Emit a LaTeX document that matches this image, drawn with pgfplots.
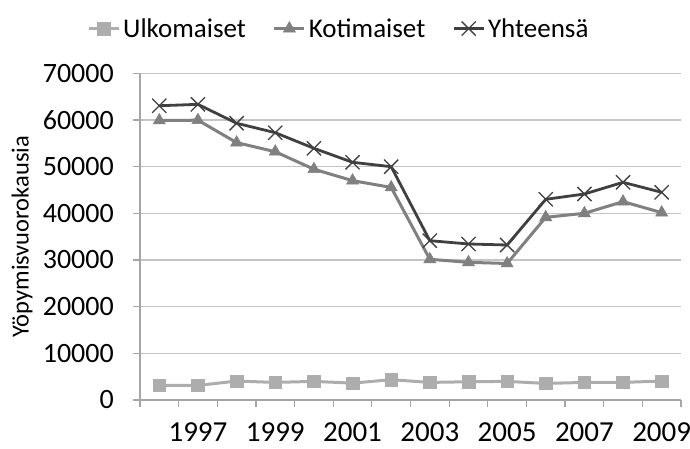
\documentclass[border=0pt]{standalone}
\usepackage{fontspec}
\setmainfont{Carlito}
\usepackage{pgfplots}
\pgfplotsset{compat=1.18}

\definecolor{ulko}{HTML}{ADADAD}
\definecolor{koti}{HTML}{808080}
\definecolor{yht}{HTML}{404040}
\definecolor{gridc}{HTML}{C4C4C4}
\definecolor{axisc}{HTML}{A6A6A6}

\begin{document}
\begin{tikzpicture}
\useasboundingbox (-140pt,-48pt) rectangle (550pt,400pt);
\begin{axis}[
  scale only axis,
  width=541pt, height=326.7pt,
  xmin=-0.5, xmax=13.5,
  ymin=0, ymax=70000,
  axis lines=left,
  axis line style={draw=axisc, line width=1.2pt, -},
  ytick={0,10000,...,70000},
  scaled y ticks=false,
  xtick={-0.5,0.5,...,13.5},
  xticklabels={},
  extra x ticks={1,3,5,7,9,11,13},
  extra x tick labels={1997,1999,2001,2003,2005,2007,2009},
  extra x tick style={major tick length=0pt},
  tick align=outside,
  major tick length=7pt,
  tick style={draw=axisc, line width=1.2pt},
  ymajorgrids,
  grid style={draw=gridc, line width=1.4pt},
  /pgf/number format/assume math mode=true,
  /pgf/number format/1000 sep={},
  tick label style={font=\fontsize{28}{31}\selectfont, text=black},
  xticklabel style={inner sep=0pt, yshift=-22pt, font=\fontsize{29}{32}\selectfont},
  yticklabel style={inner sep=0pt, xshift=-19pt},
  ylabel={Yöpymisvuorokausia},
  ylabel style={font=\fontsize{24.5}{27}\selectfont, at={(axis description cs:-0.218,0.5)}, anchor=center},
  legend columns=-1,
  legend style={draw=none, fill=none, at={(-0.098,1.137)}, anchor=west,
    inner sep=0pt, font=\fontsize{27}{30}\selectfont,
    nodes={inner xsep=3pt, inner ysep=0pt},
    /tikz/every even column/.append style={column sep=24pt}},
  legend image code/.code={\draw[mark repeat=2, mark phase=2, #1] plot coordinates {(0pt,0pt) (15pt,0pt) (30pt,0pt)};},
]
\addplot[ulko, line width=3pt, mark=square*, mark size=6.3pt, mark options={solid, line width=0.5pt}] coordinates {
  (0,3120) (1,3120) (2,4060) (3,3770) (4,3990) (5,3620) (6,4350)
  (7,3770) (8,3910) (9,3990) (10,3550) (11,3770) (12,3770) (13,4060)};
\addlegendentry{Ulkomaiset}
\addplot[koti, line width=3pt, mark=triangle*, mark size=7pt, mark options={solid, line width=0.5pt}] coordinates {
  (0,59900) (1,59950) (2,55150) (3,53200) (4,49450) (5,47000) (6,45550)
  (7,30150) (8,29500) (9,29250) (10,39150) (11,40000) (12,42500) (13,40150)};
\addlegendentry{Kotimaiset}
\addplot[yht, line width=2.8pt, mark=x, mark size=10pt, mark options={solid, line width=1.3pt}] coordinates {
  (0,63050) (1,63350) (2,59300) (3,57280) (4,53930) (5,50930) (6,49990)
  (7,34140) (8,33430) (9,33210) (10,43000) (11,44140) (12,46640) (13,44500)};
\addlegendentry{Yhteensä}
\end{axis}
\end{tikzpicture}
\end{document}
